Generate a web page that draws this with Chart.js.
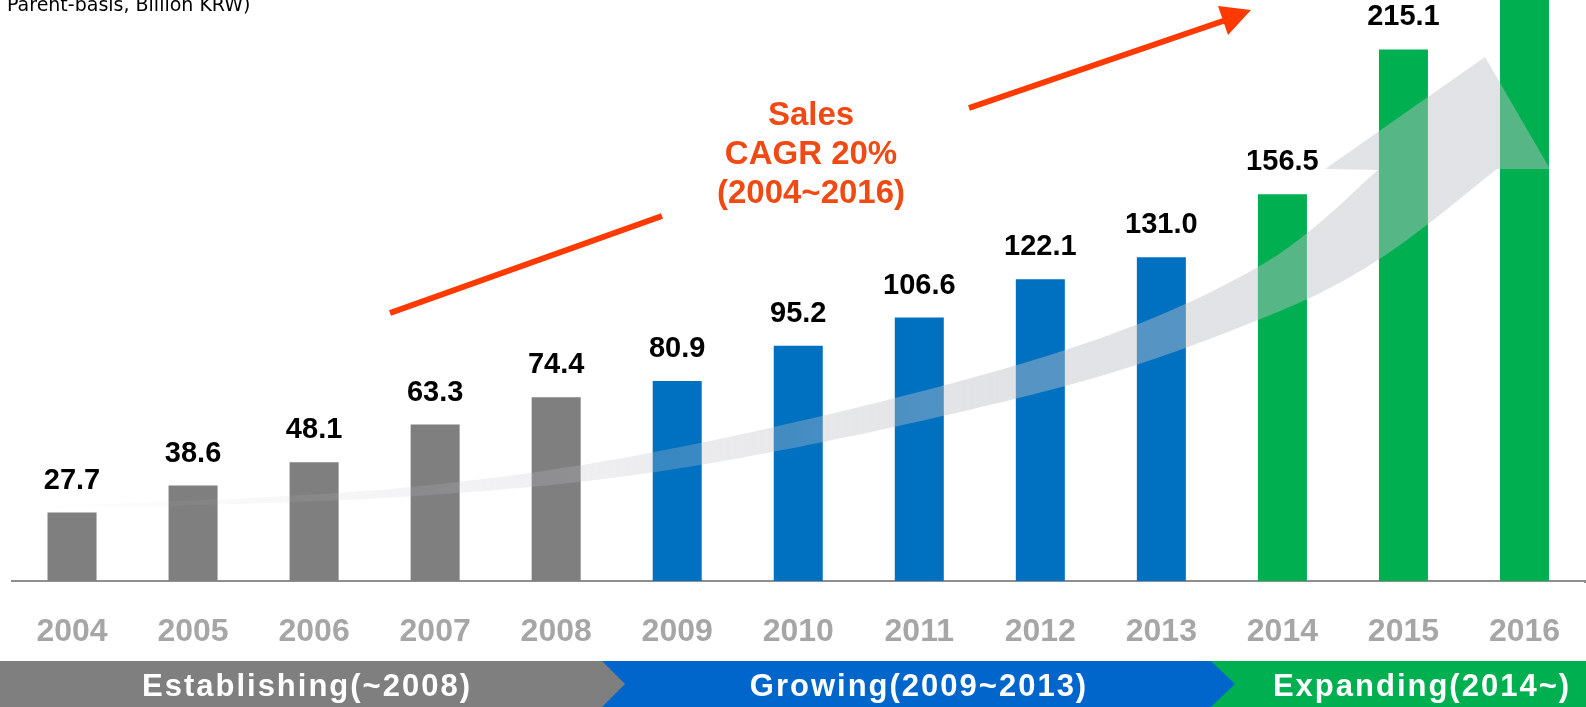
<!DOCTYPE html>
<html>
<head>
<meta charset="utf-8">
<script src="https://cdn.jsdelivr.net/npm/chart.js@4/dist/chart.umd.min.js"></script>
<style>
  html, body { margin: 0; padding: 0; background: #fff; overflow: hidden; }
  #wrap { position: relative; width: 1586px; height: 707px; }
  .txt { position: absolute; white-space: nowrap; }
  #unit { left: 7px; top: -7px; font: 19px/22px "DejaVu Sans", sans-serif; color: #000; }
  #cagr { left: 611px; width: 400px; top: 94px; text-align: center;
          font: bold 33px/39px "Liberation Sans", Arial, sans-serif; color: #ef4a14; }
  .band { top: 663px; height: 46px; font: bold 31px/46px "Liberation Sans", Arial, sans-serif;
          color: #fff; letter-spacing: 2px; transform: translateX(-50%); }
</style>
</head>
<body>
<div id="wrap">
  <canvas id="chart" width="1586" height="707"></canvas>
  <div class="txt" id="unit">Parent-basis, Billion KRW)</div>
  <div class="txt" id="cagr">Sales<br>CAGR 20%<br>(2004~2016)</div>
  <div class="txt band" style="left:307px">Establishing(~2008)</div>
  <div class="txt band" style="left:919px">Growing(2009~2013)</div>
  <div class="txt band" style="left:1422px">Expanding(2014~)</div>
</div>
<script>
// data
var years = ["2004", "2005", "2006", "2007", "2008", "2009", "2010",
             "2011", "2012", "2013", "2014", "2015", "2016"];
var sales = [27.7, 38.6, 48.1, 63.3, 74.4, 80.9, 95.2, 106.6, 122.1, 131.0, 156.5, 215.1, 247.0];
var phase = ["est", "est", "est", "est", "est", "grow", "grow", "grow", "grow", "grow", "exp", "exp", "exp"];

var phaseColor = { est: "#7f7f7f", grow: "#0070c0", exp: "#00b050" };

// smooth curve through points (catmull-rom -> bezier), continues current path
function curveThrough(ctx, pts) {
  for (var i = 0; i < pts.length - 1; i++) {
    var p0 = pts[i - 1] || pts[i], p1 = pts[i], p2 = pts[i + 1], p3 = pts[i + 2] || p2;
    ctx.bezierCurveTo(
      p1[0] + (p2[0] - p0[0]) / 6, p1[1] + (p2[1] - p0[1]) / 6,
      p2[0] - (p3[0] - p1[0]) / 6, p2[1] - (p3[1] - p1[1]) / 6,
      p2[0], p2[1]);
  }
}

// grey swoosh + red CAGR arrow, drawn over the bars
var decoPlugin = {
  id: "deco",
  afterDatasetsDraw: function (chart) {
    var ctx = chart.ctx;
    ctx.save();
    var grad = ctx.createLinearGradient(30, 0, 1000, 0);
    grad.addColorStop(0, "rgba(190,192,198,0)");
    grad.addColorStop(1, "rgba(190,192,198,0.45)");
    ctx.fillStyle = grad;
    var upper = [[30, 507], [400, 488], [700, 443], [1050, 355], [1258, 267], [1378, 170]];
    var lower = [[1497, 169], [1378, 260], [1258, 320], [1050, 390], [700, 465], [400, 497], [30, 509]];
    ctx.beginPath();
    ctx.moveTo(upper[0][0], upper[0][1]);
    curveThrough(ctx, upper);
    ctx.lineTo(1325, 169);
    ctx.lineTo(1485, 57);
    ctx.lineTo(1550, 169);
    ctx.lineTo(lower[0][0], lower[0][1]);
    curveThrough(ctx, lower);
    ctx.closePath();
    ctx.fill();

    // red arrow (broken around the text)
    ctx.strokeStyle = "#ff3a00";
    ctx.fillStyle = "#ff3a00";
    ctx.lineWidth = 6;
    ctx.beginPath();
    ctx.moveTo(390, 313);
    ctx.lineTo(662, 216);
    ctx.moveTo(969, 108);
    ctx.lineTo(1226, 20);
    ctx.stroke();
    ctx.beginPath();
    ctx.moveTo(1251, 10);
    ctx.lineTo(1218, 6);
    ctx.lineTo(1228, 35);
    ctx.closePath();
    ctx.fill();

    // axis line runs on to the right edge
    ctx.strokeStyle = "#8f8f8f";
    ctx.lineWidth = 2;
    ctx.beginPath();
    ctx.moveTo(chart.chartArea.right - 1, chart.chartArea.bottom + 1);
    ctx.lineTo(chart.width, chart.chartArea.bottom + 1);
    ctx.stroke();
    ctx.restore();
  }
};

var labelPlugin = {
  id: "valueLabels",
  afterDatasetsDraw: function (chart) {
    var ctx = chart.ctx;
    var meta = chart.getDatasetMeta(0);
    ctx.save();
    ctx.font = "bold 29px 'Liberation Sans', Arial, sans-serif";
    ctx.fillStyle = "#000";
    ctx.textAlign = "center";
    ctx.textBaseline = "alphabetic";
    meta.data.forEach(function (bar, i) {
      ctx.fillText(sales[i].toFixed(1), bar.x, bar.y - 24);
    });
    ctx.restore();
  }
};

var bandPlugin = {
  id: "band",
  beforeDraw: function (chart) {
    var ctx = chart.ctx;
    ctx.save();
    ctx.fillStyle = "#00b050";
    ctx.fillRect(1200, 661, 386, 46);
    ctx.fillStyle = "#0066cc";
    ctx.beginPath();
    ctx.moveTo(590, 661); ctx.lineTo(1211, 661); ctx.lineTo(1235, 684);
    ctx.lineTo(1211, 707); ctx.lineTo(590, 707); ctx.closePath();
    ctx.fill();
    ctx.fillStyle = "#7f7f7f";
    ctx.beginPath();
    ctx.moveTo(0, 661); ctx.lineTo(602, 661); ctx.lineTo(625, 684);
    ctx.lineTo(602, 707); ctx.lineTo(0, 707); ctx.closePath();
    ctx.fill();
    ctx.restore();
  }
};

new Chart(document.getElementById("chart"), {
  type: "bar",
  data: {
    labels: years,
    datasets: [{
      data: sales,
      backgroundColor: phase.map(function (p) { return phaseColor[p]; }),
      borderWidth: 0,
      categoryPercentage: 1,
      barPercentage: 0.405
    }]
  },
  options: {
    responsive: false,
    devicePixelRatio: 1,
    animation: false,
    events: [],
    layout: { padding: { left: 11.5, right: 1, top: 0, bottom: 46 } },
    plugins: { legend: { display: false }, tooltip: { enabled: false } },
    scales: {
      x: {
        // tick marks hidden with the grid; tickLength only pushes the labels down
        grid: { display: false, drawTicks: true, tickLength: 24 },
        border: { display: true, color: "#8f8f8f", width: 2 },
        ticks: {
          color: "#a6a6a6",
          padding: 8,
          font: { family: "'Liberation Sans', Arial, sans-serif", size: 32, weight: "bold" }
        },
        afterFit: function (scale) { scale.height = 80; }
      },
      y: { display: false, min: 0, max: 235.1 }
    }
  },
  plugins: [bandPlugin, decoPlugin, labelPlugin]
});
</script>
</body>
</html>
